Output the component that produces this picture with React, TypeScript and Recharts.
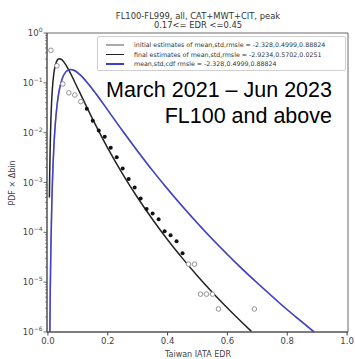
import { ComposedChart, Line, Scatter, XAxis, YAxis, ReferenceArea } from 'recharts';

// bin centres and PDF x dbin values
const openBins = [0.01, 0.03, 0.05, 0.07, 0.09, 0.11, 0.47, 0.49, 0.51, 0.53, 0.55, 0.57, 0.69];
const openVals = [0.45, 0.22, 0.095, 0.063, 0.057, 0.042, 2.3e-5, 2.3e-5, 5.75e-6, 5.75e-6, 5.75e-6, 2.9e-6, 2.9e-6];

const fitBins = [0.13, 0.15, 0.17, 0.19, 0.21, 0.23, 0.25, 0.27, 0.29, 0.31, 0.33, 0.35, 0.37, 0.39, 0.41, 0.43, 0.45];
const fitVals = [0.0302, 0.0174, 0.011, 0.0083, 0.005, 0.0032, 0.0019, 0.00117, 0.00079, 0.00048, 0.000295, 0.00024, 0.000182, 0.000105, 0.000087, 0.000066, 0.000038];

// final estimates curve (black)
const finalX = [0.005, 0.006, 0.008, 0.01, 0.012, 0.015, 0.02, 0.025, 0.03, 0.035, 0.04, 0.045, 0.05, 0.06, 0.07, 0.08, 0.1, 0.12, 0.15, 0.2, 0.25, 0.3, 0.35, 0.4, 0.45, 0.5, 0.55, 0.6, 0.65, 0.68];
const finalY = [5e-4, 0.00143, 0.0066, 0.018, 0.0367, 0.076, 0.156, 0.227, 0.276, 0.301, 0.306, 0.296, 0.278, 0.229, 0.18, 0.137, 0.077, 0.0433, 0.0185, 0.0049, 0.00148, 4.95e-4, 1.81e-4, 7.1e-5, 3.0e-5, 1.33e-5, 6.2e-6, 3.03e-6, 1.53e-6, 1.03e-6];

// mean,std,cdf curve (blue) - same parameters as the initial estimates
const cdfX = [0.0065, 0.008, 0.01, 0.013, 0.015, 0.02, 0.025, 0.03, 0.035, 0.04, 0.045, 0.05, 0.06, 0.07, 0.075, 0.09, 0.1, 0.11, 0.13, 0.16, 0.2, 0.25, 0.3, 0.35, 0.4, 0.45, 0.5, 0.55, 0.6, 0.65, 0.7, 0.75, 0.8, 0.85, 0.89];
const cdfY = [1e-6, 7.4e-6, 5.0e-5, 3.6e-4, 9.6e-4, 5.3e-3, 0.0157, 0.033, 0.0559, 0.0815, 0.107, 0.131, 0.166, 0.183, 0.186, 0.175, 0.159, 0.141, 0.104, 0.0612, 0.0284, 0.0108, 0.00425, 0.00173, 7.4e-4, 3.29e-4, 1.52e-4, 7.25e-5, 3.6e-5, 1.83e-5, 9.6e-6, 5.15e-6, 2.8e-6, 1.58e-6, 1.0e-6];

const xTicks = [0, 0.2, 0.4, 0.6, 0.8, 1.0];
const yMajor = [1e-6, 1e-5, 1e-4, 1e-3, 1e-2, 1e-1, 1];

const legendItems = [
  { label: 'initial estimates of mean,std,rmsle = -2.328,0.4999,0.88824', color: '#aaaaaa' },
  { label: 'final estimates of mean,std,rmsle = -2.9234,0.5702,0.0251', color: '#222222' },
  { label: 'mean,std,cdf rmsle = -2.328,0.4999,0.88824', color: '#4040d0' },
];

const toPts = (xs: number[], ys: number[]) => xs.map((x, i) => ({ x, y: ys[i] }));

const yMinor: number[] = [];
for (let k = -6; k < 0; k++) for (let m = 2; m <= 9; m++) yMinor.push(m * Math.pow(10, k));
const yTicks = [...yMajor, ...yMinor].sort((a, b) => a - b);

const font = 'DejaVu Sans, sans-serif';

const YTick = (props: any) => {
  const { x, y, payload } = props;
  const lg = Math.log10(payload.value);
  const major = Math.abs(lg - Math.round(lg)) < 1e-6;
  if (!major) return <line x1={x - 2} x2={x} y1={y} y2={y} stroke="#444" strokeWidth={0.6} />;
  const e = Math.round(lg);
  return (
    <g>
      <line x1={x - 3.5} x2={x} y1={y} y2={y} stroke="#444" strokeWidth={0.8} />
      <text x={x - 4.5} y={y + 3} textAnchor="end" fontSize={8.5} fill="#444" fontFamily={font}>
        10<tspan dy={-4} fontSize={6}>{e === 0 ? '0' : '\u2212' + Math.abs(e)}</tspan>
      </text>
    </g>
  );
};

const LegendBox = () => (
  <div style={{ position: 'absolute', left: 97, top: 36, width: 249, height: 35, border: '1px solid #cfcfcf', borderRadius: 2, background: 'rgba(255,255,255,0.85)', boxSizing: 'border-box', paddingTop: 3 }}>
    {legendItems.map((it) => (
      <div key={it.label} style={{ display: 'flex', alignItems: 'center', height: 9.5 }}>
        <div style={{ width: 18, height: 1.5, background: it.color, marginLeft: 8, marginRight: 10 }} />
        <span style={{ fontSize: 6.3, color: '#333', fontFamily: font, whiteSpace: 'nowrap' }}>{it.label}</span>
      </div>
    ))}
  </div>
);

const dot = (p: any) => <circle cx={p.cx} cy={p.cy} r={2} fill="#111" />;
const ring = (p: any) => <circle cx={p.cx} cy={p.cy} r={2.3} fill="#fff" stroke="#888" strokeWidth={0.9} />;

export default function App() {
  return (
    <div style={{ position: 'absolute', left: 0, top: 0, width: 355, height: 359, background: '#fff' }}>
      <ComposedChart width={355} height={359} margin={{ top: 33, right: 7, bottom: 0, left: 0 }}>
        <XAxis
          type="number"
          dataKey="x"
          domain={[-0.003, 1.003]}
          ticks={xTicks}
          tickFormatter={(v: number) => v.toFixed(1)}
          tick={{ fontSize: 8.5, fill: '#444', fontFamily: font }}
          tickSize={3.5}
          tickMargin={2}
          height={27}
          stroke="#444"
          allowDataOverflow
        />
        <YAxis
          type="number"
          scale="log"
          domain={[1e-6, 1]}
          ticks={yTicks}
          tick={<YTick />}
          tickLine={false}
          tickSize={0}
          tickMargin={0}
          interval={0}
          width={47}
          stroke="#444"
          allowDataOverflow
        />
        <ReferenceArea x1={-0.003} x2={1.003} y1={1e-6} y2={1} fill="none" stroke="#444" strokeWidth={0.8} ifOverflow="visible" />
        <Line data={toPts(cdfX, cdfY)} dataKey="y" type="monotone" stroke="#aaaaaa" strokeWidth={1.5} dot={false} isAnimationActive={false} />
        <Line data={toPts(finalX, finalY)} dataKey="y" type="monotone" stroke="#222222" strokeWidth={1.5} dot={false} isAnimationActive={false} />
        <Line data={toPts(cdfX, cdfY)} dataKey="y" type="monotone" stroke="#4040d0" strokeWidth={1.5} dot={false} isAnimationActive={false} />
        <Scatter data={toPts(openBins, openVals)} dataKey="y" shape={ring} isAnimationActive={false} />
        <Scatter data={toPts(fitBins, fitVals)} dataKey="y" shape={dot} isAnimationActive={false} />
      </ComposedChart>
      <LegendBox />
      <svg width={355} height={359} style={{ position: 'absolute', left: 0, top: 0, pointerEvents: 'none' }}>
        <text x={198} y={18.5} textAnchor="middle" fontSize={8.4} fill="#333" fontFamily={font}>FL100-FL999, all, CAT+MWT+CIT, peak</text>
        <text x={198} y={27.5} textAnchor="middle" fontSize={8.4} fill="#333" fontFamily={font}>0.17&lt;= EDR &lt;=0.45</text>
        <text x={198} y={357} textAnchor="middle" fontSize={8} fill="#444" fontFamily={font}>Taiwan IATA EDR</text>
        <text x={15} y={183} textAnchor="middle" fontSize={8} fill="#444" fontFamily={font} transform="rotate(-90 15 183)">PDF × Δbin</text>
        <text x={332} y={97} textAnchor="end" fontSize={21.5} fill="#000" fontFamily="Liberation Sans, Arial, sans-serif">March 2021 – Jun 2023</text>
        <text x={332} y={123} textAnchor="end" fontSize={21.5} fill="#000" fontFamily="Liberation Sans, Arial, sans-serif">FL100 and above</text>
      </svg>
    </div>
  );
}
